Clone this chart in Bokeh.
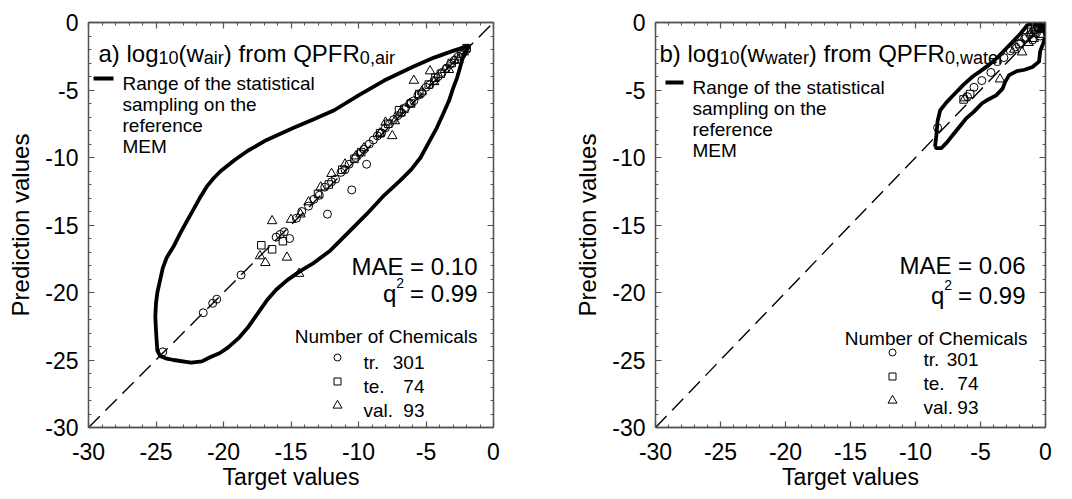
from bokeh.plotting import figure
from bokeh.models import Label, FixedTicker, LinearAxis, Range1d
from bokeh.layouts import row
from bokeh.embed import file_html
from bokeh.resources import INLINE

# ------------------------------------------------------------------ data
tick_values = [-30, -25, -20, -15, -10, -5, 0]
tick_labels = ["-30", "-25", "-20", "-15", "-10", "-5", "0"]
minor_tick_values = list(range(-30, 1))

# panel a) log10(w_air)
air_tr_x = [-24.5, -21.5, -20.8, -20.5, -18.7, -16.1, -15.8, -15.5, -15.1, -14.6, -14.2, -13.7, -13.3,
            -12.9, -12.5, -12.3, -12.0, -11.7, -11.3, -11.0, -10.7, -10.5, -10.2, -9.9, -9.6, -9.4,
            -9.2, -8.9, -8.6, -8.3, -8.0, -7.7, -7.4, -7.1, -6.8, -6.5, -6.2, -5.9, -5.6, -5.3, -5.0,
            -4.7, -4.4, -4.1, -3.8, -3.5, -3.2, -2.9, -2.6, -2.3, -2.0]
air_tr_y = [-24.4, -21.5, -20.8, -20.5, -18.7, -15.9, -15.7, -15.5, -16.0, -14.5, -14.0, -13.6, -13.1,
            -12.8, -12.2, -14.2, -11.8, -11.6, -11.1, -10.9, -10.5, -12.4, -10.0, -9.7, -9.4, -10.5,
            -9.0, -8.7, -8.4, -8.2, -7.8, -7.5, -7.2, -6.9, -6.7, -6.3, -6.0, -5.8, -5.4, -5.2, -4.8,
            -4.6, -4.3, -4.0, -3.7, -3.4, -3.1, -2.8, -2.5, -2.3, -2.0]
air_te_x = [-17.2, -16.4, -15.6, -13.0, -12.2, -11.2, -10.3, -9.8, -8.4, -7.8, -7.0, -6.6, -6.1, -5.5,
            -4.8, -4.3, -3.9, -3.1, -2.4, -2.0]
air_te_y = [-16.5, -16.8, -16.2, -12.7, -12.0, -10.9, -10.1, -9.6, -8.2, -7.5, -6.5, -6.4, -6.0, -5.3,
            -4.6, -4.1, -3.8, -3.0, -2.3, -1.9]
air_val_x = [-17.3, -16.9, -16.4, -15.3, -15.0, -14.4, -14.3, -13.7, -12.8, -12.0, -11.0, -10.2, -9.6,
             -8.4, -8.0, -7.5, -7.3, -6.9, -6.2, -5.9, -5.3, -4.7, -4.4, -3.6, -3.3, -2.9, -2.6, -2.2]
air_val_y = [-17.3, -17.8, -14.7, -17.4, -14.6, -18.6, -14.2, -13.3, -12.2, -11.2, -10.5, -9.9, -9.3,
             -8.2, -7.4, -8.4, -7.3, -6.7, -6.0, -4.3, -5.1, -3.6, -4.4, -3.5, -3.5, -2.8, -2.8, -2.2]
air_env_x = [-1.8, -3.0, -4.4, -6.0, -8.1, -10.0, -11.8, -13.4, -14.8, -16.8, -18.2, -19.2, -20.2, -20.7,
             -21.2, -21.7, -22.2, -22.7, -23.2, -23.7, -24.2, -24.5, -24.7, -24.9, -25.0, -25.05, -25.0,
             -24.95, -24.9, -24.7, -24.2, -23.7, -22.4, -21.6, -21.0, -20.3, -19.7, -18.9, -18.2, -17.5,
             -16.8, -16.1, -15.3, -14.3, -13.3, -12.1, -10.8, -9.4, -8.1, -6.9, -6.1, -5.4, -4.8, -4.2,
             -3.7, -3.3, -3.0, -2.7, -2.5, -2.3, -2.0, -1.8]
air_env_y = [-1.7, -2.1, -2.6, -3.3, -4.3, -5.4, -6.5, -7.2, -7.8, -8.7, -9.5, -10.2, -11.0, -11.5,
             -12.1, -12.9, -13.8, -14.7, -15.6, -16.6, -17.4, -18.2, -19.1, -20.0, -20.8, -21.8, -22.8,
             -23.6, -24.3, -24.7, -24.9, -25.0, -25.2, -25.1, -24.8, -24.5, -24.1, -23.4, -22.6, -21.6,
             -20.6, -19.8, -19.1, -18.4, -17.8, -16.9, -15.6, -14.2, -12.8, -11.7, -10.9, -10.0, -8.9,
             -7.8, -6.7, -5.8, -4.9, -4.1, -3.4, -2.7, -2.1, -1.7]

# panel b) log10(w_water)
water_tr_x = [-8.3, -6.0, -5.5, -4.9, -4.2, -3.7, -3.2, -2.7, -2.3, -1.9, -1.6, -1.2, -1.0, -0.9, -0.7,
              -0.6, -0.4, -0.3, -0.2]
water_tr_y = [-7.8, -5.5, -4.8, -4.3, -3.7, -2.9, -2.6, -2.1, -1.8, -1.5, -1.2, -0.9, -1.3, -0.6, -0.8,
              -0.4, -1.0, -0.2, -0.3]
water_te_x = [-6.3, -5.8, -2.0, -1.5, -1.1, -0.8, -0.5, -0.3]
water_te_y = [-5.7, -5.3, -1.6, -1.1, -0.7, -0.5, -0.4, -0.2]
water_val_x = [-6.2, -3.5, -2.4, -1.8, -1.3, -1.0, -0.9, -0.7, -0.5, -0.3, -0.1]
water_val_y = [-5.6, -4.2, -2.0, -2.2, -1.5, -0.6, -1.2, -0.4, -0.1, -0.9, -0.5]
water_env_x = [-8.5, -8.4, -8.3, -8.1, -7.6, -7.0, -6.3, -5.6, -5.0, -4.3, -3.7, -3.1, -2.6, -1.9, -1.4,
               -1.0, -0.4, -0.1, 0.0, -0.2, -0.4, -0.5, -1.0, -1.6, -2.2, -2.8, -3.1, -3.3, -3.8, -4.4,
               -4.9, -5.5, -6.1, -6.6, -7.1, -7.6, -8.0, -8.4, -8.5]
water_env_y = [-9.2, -8.4, -7.3, -6.5, -5.9, -5.3, -4.6, -4.0, -3.6, -3.1, -2.6, -2.0, -1.5, -0.8, -0.2,
               -0.05, -0.1, -0.3, -1.0, -1.6, -2.1, -2.9, -3.3, -3.5, -3.6, -3.9, -4.4, -4.9, -5.4, -5.7,
               -6.0, -6.6, -7.1, -7.7, -8.3, -8.9, -9.3, -9.3, -9.2]

set_names = ["tr.", "te.", "val."]
set_counts = ["301", "74", "93"]
set_markers = ["circle", "square", "triangle"]
air_stats = ["0.10", "0.99"]
water_stats = ["0.06", "0.99"]
envelope_text = ["Range of the statistical", "sampling on the", "reference", "MEM"]
x_title = "Target values"
y_title = "Prediction values"

# ------------------------------------------------------------------ style
FONT = "Liberation Sans"
FRAME = "#555555"
ARIAL = {'a': 556, 'b': 556, 'c': 500, 'd': 556, 'e': 556, 'f': 278, 'g': 556, 'h': 556, 'i': 222,
         'l': 222, 'm': 833, 'n': 556, 'o': 556, 'p': 556, 'q': 556, 'r': 333, 's': 500, 't': 278,
         'u': 556, 'v': 500, 'w': 722, 'A': 667, 'E': 667, 'F': 611, 'M': 833, 'P': 667, 'Q': 778,
         'R': 722, ' ': 278, '(': 333, ')': 333, ',': 278, '.': 278, '=': 584, '-': 333}


def tw(s, size):
    return sum(ARIAL.get(c, 556) for c in s) / 1000.0 * size


def style_axis(ax, labels=True):
    ax.ticker = FixedTicker(ticks=tick_values, minor_ticks=minor_tick_values)
    ax.axis_line_color = FRAME
    ax.axis_line_width = 1.3
    ax.major_tick_line_color = FRAME
    ax.minor_tick_line_color = FRAME
    ax.major_tick_line_width = 1.2
    ax.minor_tick_line_width = 1.0
    ax.major_tick_in = 6
    ax.major_tick_out = 0
    ax.minor_tick_in = 3
    ax.minor_tick_out = 0
    if labels:
        ax.major_label_overrides = dict(zip(tick_values, tick_labels))
        ax.major_label_text_font = FONT
        ax.major_label_text_font_size = "23px"
        ax.major_label_text_color = "black"
        ax.axis_label_text_font = FONT
        ax.axis_label_text_font_size = "23px"
        ax.axis_label_text_font_style = "normal"
        ax.axis_label_text_color = "black"
    else:
        ax.major_label_overrides = {t: "" for t in tick_values}
        ax.major_label_text_font_size = "0px"
        ax.major_label_standoff = 0


def make_panel(W, fw, title_parts, title_dx, leg, env_x, env_y, tr, te, val, stats, st):
    fh = 405
    p = figure(width=W, height=499, x_range=Range1d(-30, 0), y_range=Range1d(-30, 0),
               output_backend="svg", toolbar_location=None,
               min_border_left=88, min_border_right=W - 88 - fw, min_border_top=22,
               min_border_bottom=499 - 22 - fh,
               x_axis_label=x_title, y_axis_label=y_title,
               background_fill_color="white", border_fill_color="white",
               outline_line_color=FRAME, outline_line_width=1.3)
    p.grid.visible = False
    style_axis(p.xaxis[0])
    style_axis(p.yaxis[0])
    p.xaxis[0].major_label_standoff = 15
    p.xaxis[0].axis_label_standoff = 1
    p.yaxis[0].major_label_standoff = 10
    p.yaxis[0].axis_label_standoff = 8
    p.yaxis[0].axis_label_text_font_size = "24px"
    top = LinearAxis()
    style_axis(top, labels=False)
    p.add_layout(top, "above")
    right = LinearAxis()
    style_axis(right, labels=False)
    p.add_layout(right, "right")

    xs, xe = p.x_range.start, p.x_range.end
    ys, ye = p.y_range.start, p.y_range.end

    def to_data(dx, dy):
        return xs + dx * (xe - xs) / fw, ye - dy * (ye - ys) / fh

    def lab(text, dx, dy, size, align="left", from_right=False):
        p.add_layout(Label(x=xe if from_right else xs, y=ye, x_offset=dx, y_offset=-dy, text=text,
                           text_font=FONT, text_font_size=f"{size}px", text_align=align,
                           text_baseline="alphabetic", text_color="black"))

    # envelope + 1:1 line
    p.line(env_x, env_y, line_color="black", line_width=3.8, line_join="round")
    p.line([xs, xe], [ys, ye], line_color="black", line_width=1.4, line_dash="16 8")

    # data points
    kw = dict(fill_alpha=0, line_color="black", line_width=1.0)
    p.scatter(tr[0], tr[1], marker="circle", size=8, **kw)
    p.scatter(te[0], te[1], marker="square", size=7.5, **kw)
    p.scatter(val[0], val[1], marker="triangle", size=9.5, **kw)

    # panel title with subscripts
    x = title_dx
    for txt, sub in title_parts:
        size = 18 if sub else 24
        lab(txt, x, 31 + (4 if sub else 0), size)
        x += tw(txt, size)

    # envelope legend
    (l0, l1, ly, tdx, tdy) = leg
    a = to_data(l0, ly)
    b = to_data(l1, ly)
    p.line([a[0], b[0]], [a[1], b[1]], line_color="black", line_width=4)
    for i, t in enumerate(envelope_text):
        lab(t, tdx, tdy + 21 * i, 19)

    # statistics
    (rdx, mae_dy, q_dy, num_rdx, num_dy, key_dx, key_dy, ktx, knx, kty, kstep) = st
    lab("MAE = " + stats[0], rdx, mae_dy, 24, align="right", from_right=True)
    rest = "= " + stats[1]
    lab(rest, rdx, q_dy, 24, align="right", from_right=True)
    sup_right = rdx - tw(rest, 24) - 6
    lab("2", sup_right, q_dy - 11, 14, align="right", from_right=True)
    lab("q", sup_right - tw("2", 14), q_dy, 24, align="right", from_right=True)
    lab("Number of Chemicals", num_rdx, num_dy, 19, align="right", from_right=True)
    ksizes = [7, 7, 9]
    for i, (nm, ct, mk) in enumerate(zip(set_names, set_counts, set_markers)):
        kx, ky = to_data(key_dx, key_dy + kstep * i)
        p.scatter([kx], [ky], marker=mk, size=ksizes[i], **kw)
        lab(nm, ktx, kty + kstep * i, 19)
        lab(ct, knx, kty + kstep * i, 19, align="right")
    return p


air_title = [("a) log", False), ("10", True), ("(w", False), ("air", True), (") from QPFR", False),
             ("0,air", True)]
water_title = [("b) log", False), ("10", True), ("(w", False), ("water", True), (") from QPFR", False),
               ("0,water", True)]

p1 = make_panel(567, 405, air_title, 10, (5, 25, 56, 34, 61), air_env_x, air_env_y,
                (air_tr_x, air_tr_y), (air_te_x, air_te_y), (air_val_x, air_val_y), air_stats,
                (-16, 244, 271, -16, 314, 249, 335, 275, 336, 340, 24))
p2 = make_panel(505, 390, water_title, 4, (10, 28, 60, 37, 65), water_env_x, water_env_y,
                (water_tr_x, water_tr_y), (water_te_x, water_te_y), (water_val_x, water_val_y),
                water_stats, (-20, 243, 273, -18, 316, 237, 330, 268, 323, 337, 24))

layout = row(p1, p2)
open("out.html", "w").write(file_html(layout, INLINE))
